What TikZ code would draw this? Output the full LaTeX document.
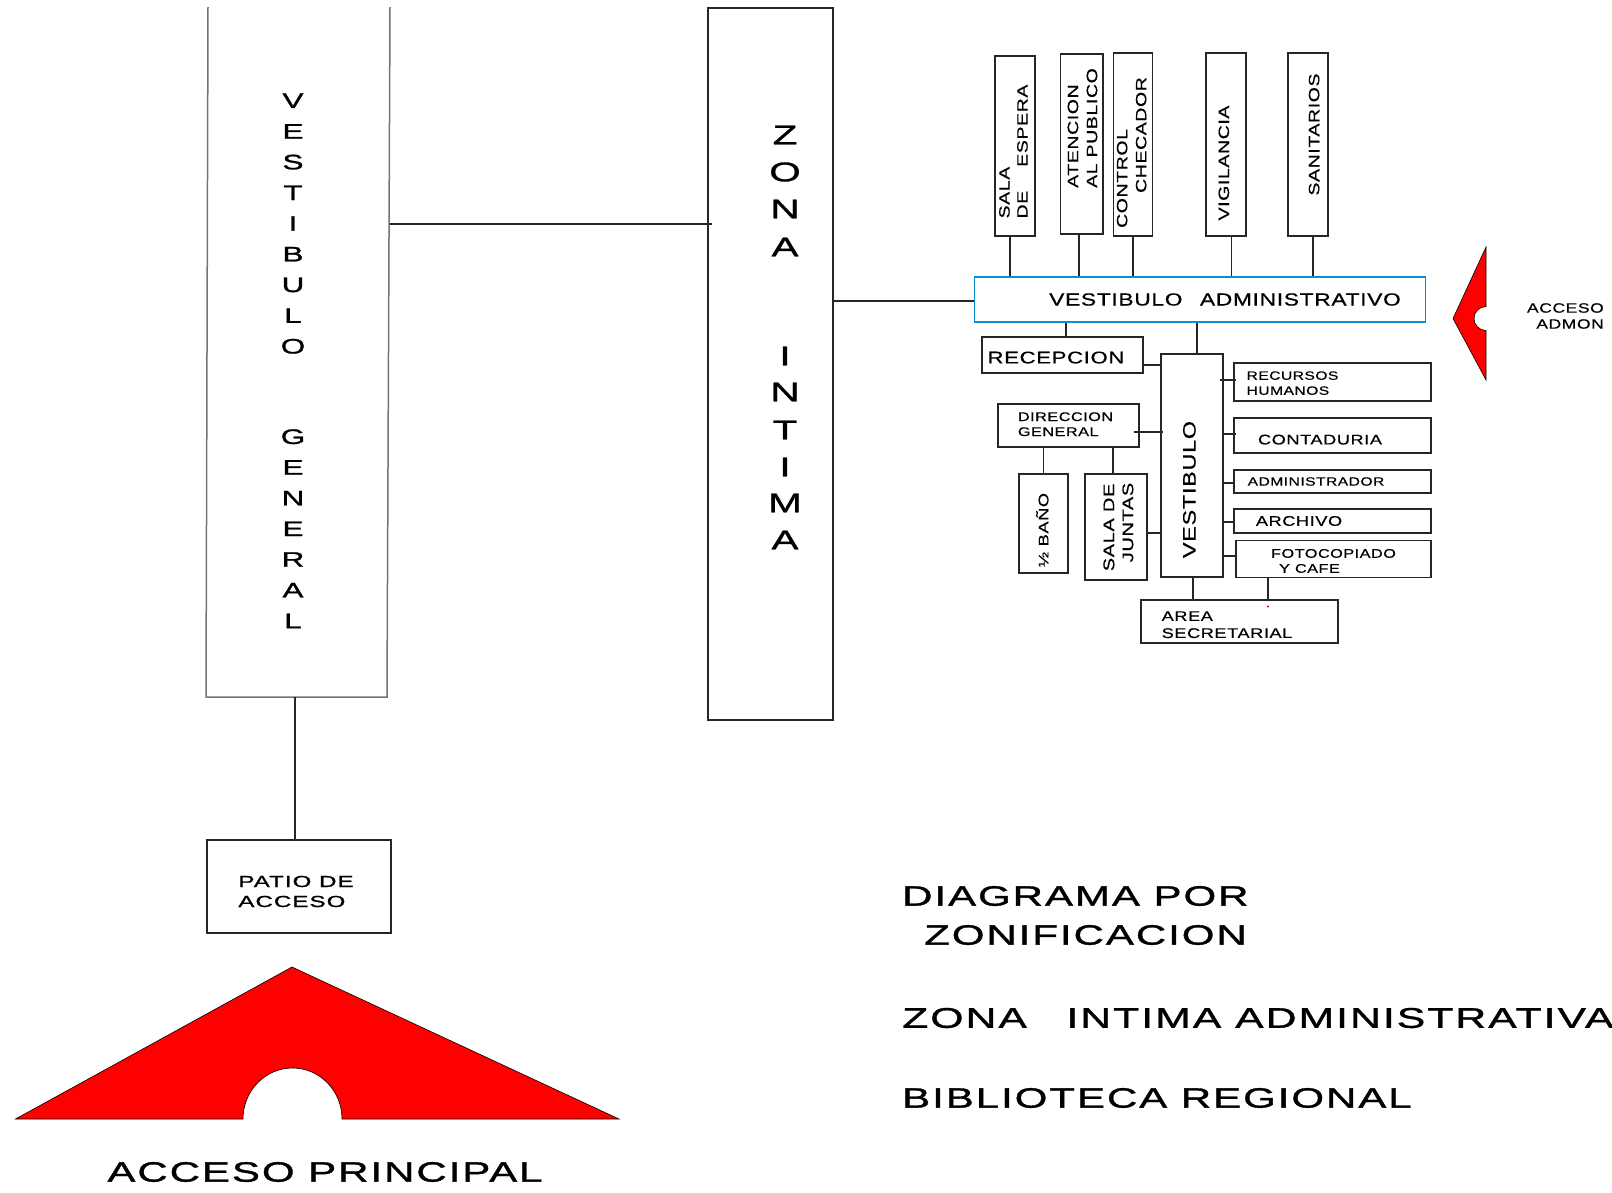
\documentclass[tikz,border=0pt]{standalone}
\usepackage{fontspec}
\usepackage{graphicx}
\newfontfamily\rotfont[FakeStretch=1.3,LetterSpace=4,FakeBold=0.5]{Liberation Sans}
\newfontfamily\grandefont[FakeStretch=1.5,LetterSpace=7,FakeBold=1.2]{Liberation Sans}
\newcommand{\giro}[1]{\rotatebox{90}{\begin{tabular}{@{}l@{}}#1\end{tabular}}}
\newcommand{\linea}[1]{\begin{tabular}{@{}l@{}}#1\end{tabular}}

\tikzset{
	rotulo/.style 2 args={font=\rotfont\fontsize{#1}{#2}\selectfont,text=black,inner sep=0pt},
	rotgrande/.style 2 args={font=\grandefont\fontsize{#1}{#2}\selectfont,text=black,inner sep=0pt},
	caja/.style={draw=black!85,line width=1.3pt,fill=white,inner sep=0pt},
	cajazul/.style={draw=cyan!75!blue,line width=1.3pt,inner sep=0pt},
	enlace/.style={draw=black!85,line width=1.3pt},
	muro/.style={draw=black!55,line width=1.5pt},
	acceso/.style={fill=red,draw=black,line width=0.6pt}
}

\begin{document}
\begin{tikzpicture}[x=1pt,y=-1pt]
	\useasboundingbox (0,0) rectangle (1612,1192);

	% vestibulo general
	\coordinate (vgTL) at (208,7);
	\coordinate (vgBL) at (206,697);
	\coordinate (vgBR) at (387,697);
	\coordinate (vgTR) at (390,7);
	\coordinate (vgD) at (389.5,224);
	\coordinate (vgI) at (295,697);
	\draw[muro] (vgTL) -- (vgBL) -- (vgBR) -- (vgTR);
	\foreach \letra [count=\i] in {V,E,S,T,I,B,U,L,O}
		\node[rotgrande={21}{21}] (vgA\i) at (293,{70+30.7*\i}) {\letra};
	\foreach \letra [count=\i] in {G,E,N,E,R,A,L}
		\node[rotgrande={21}{21}] (vgB\i) at (293,{406+30.7*\i}) {\letra};

	% zona intima
	\node[caja,minimum width=125,minimum height=712] (zona) at (770.5,364) {};
	\foreach \letra/\y in {Z/135,O/172,N/209,A/247,I/356,N/392,T/430,I/467,M/503,A/540}
		\node[rotgrande={27}{27}] (zi\y) at (785,\y) {\letra};

	% patio y acceso principal
	\node[caja,rotgrande={16}{20},minimum width=184,minimum height=93] (patio) at (299,886.5)
		{\linea{\rule{0pt}{27pt}PATIO DE\hspace*{6pt}\\ ACCESO}};
	\draw[acceso] (15.5,1119) -- (292,967) -- (619,1119) -- (342,1119)
		.. controls (342,1091) and (320,1068) .. (292.5,1068)
		.. controls (265,1068) and (243,1091) .. (243,1119) -- cycle;
	\node[rotgrande={28}{28}] (princ) at (325,1172) {ACCESO PRINCIPAL};

	% conexiones generales
	\draw[enlace] (vgD) -- ([xshift=5pt]vgD -| zona.west);
	\draw[enlace] (vgI) -- (vgI |- patio.north);

	% zona administrativa, arriba
	\node[caja,rotulo={15}{18},minimum width=40,minimum height=180] (sala) at (1015,146)
		{\giro{SALA\\ DE\hspace*{24pt}ESPERA\hspace*{11pt}}};
	\node[caja,rotulo={15}{19},minimum width=37,minimum height=180] (atenc) at (1081.5,144)
		{\giro{\rule{0pt}{18pt}\hspace*{32pt}ATENCION\\ \hspace*{32pt}AL PUBLICO}};
	\node[caja,rotulo={15}{19},minimum width=39.5,minimum height=183] (control) at (1133,144.5)
		{\giro{CONTROL\\ \hspace*{35pt}CHECADOR\hspace*{16pt}}};
	\node[caja,rotulo={15}{15},minimum width=40,minimum height=183] (vigil) at (1226,144.5)
		{\giro{VIGILANCIA\hspace*{37pt}}};
	\node[caja,rotulo={15}{15},minimum width=40,minimum height=183] (sanit) at (1308,144.5)
		{\giro{\rule{0pt}{27pt}\hspace*{20pt}SANITARIOS}};
	\node[cajazul,rotulo={17.5}{17.5},minimum width=451.5,minimum height=45] (vadm) at (1200,299.5)
		{\hspace*{50pt}VESTIBULO\quad ADMINISTRATIVO};

	\foreach \nombre/\dx in {sala/-5,atenc/-2.5,control/0,vigil/5.5,sanit/5}
		\draw[enlace] ([xshift=\dx pt]\nombre.south) -- ([xshift=\dx pt]\nombre.south |- vadm.north);
	\draw[enlace] ([yshift=-1.5pt]vadm.west) -- ([yshift=-1.5pt]vadm.west -| zona.east);

	% zona administrativa, abajo
	\node[caja,rotulo={17}{17},text height=17pt,minimum width=161,minimum height=36] (recep) at (1062.5,355)
		{RECEPCION\hspace*{13pt}};
	\node[caja,rotulo={18}{18},minimum width=62,minimum height=223] (vest) at (1192,465.5)
		{\giro{VESTIBULO\hspace*{48pt}}};
	\node[caja,rotulo={12}{15},minimum width=197,minimum height=38] (recur) at (1332.5,382)
		{\linea{\rule{0pt}{15pt}RECURSOS\\ HUMANOS}\hspace*{80pt}};
	\node[caja,rotulo={14}{14},text height=18pt,minimum width=197,minimum height=35] (conta) at (1332.5,435.5)
		{CONTADURIA\hspace*{25pt}};
	\node[caja,rotulo={12}{12},minimum width=197,minimum height=23] (admin) at (1332.5,481.5)
		{ADMINISTRADOR\hspace*{33pt}};
	\node[caja,rotulo={14}{14},minimum width=197,minimum height=24] (archi) at (1332.5,521)
		{ARCHIVO\hspace*{67pt}};
	\node[caja,rotulo={12.5}{15},minimum width=195,minimum height=36] (foto) at (1333.5,559)
		{\linea{\rule{0pt}{17pt}FOTOCOPIADO\\ \hspace*{8pt}Y CAFE}};
	\node[caja,rotulo={12.5}{15},minimum width=141,minimum height=43] (dirg) at (1068.5,425.5)
		{\linea{DIRECCION\\ GENERAL}\hspace*{6pt}};
	\node[caja,rotulo={14}{14},minimum width=49,minimum height=99] (bano) at (1043.5,523.5)
		{\giro{\rule{0pt}{14pt}½ BAÑO\hspace*{13pt}}};
	\node[caja,rotulo={15.4}{19},minimum width=62,minimum height=106] (junta) at (1116,527)
		{\giro{\rule{0pt}{21pt}SALA DE\\ \hspace*{9pt}JUNTAS}};
	\node[caja,rotulo={14}{17},minimum width=197,minimum height=41] (area) at (1239.5,621.5)
		{\linea{\rule{0pt}{21pt}AREA\\ SECRETARIAL}\hspace*{25pt}};
	\node[circle,fill=red,inner sep=0.8pt] (punto) at (1268,606.5) {};

	\draw[enlace] ([xshift=3.5pt]recep.north) -- ([xshift=3.5pt]recep.north |- vadm.south);
	\draw[enlace] ([xshift=5pt]vest.north) -- ([xshift=5pt]vest.north |- vadm.south);
	\draw[enlace] ([yshift=-10pt]recep.east) -- ([yshift=-10pt]recep.east -| vest.west);
	\foreach \nombre/\dy/\ax/\bx in {recur/2/4/3,conta/1.5/2/3,admin/-1.5/0/0,archi/-1/0/0,foto/3/0/0}
		\draw[enlace] ([shift={(-\ax pt,\dy pt)}]\nombre.west -| vest.east) -- ([shift={(\bx pt,\dy pt)}]\nombre.west);
	\draw[enlace] ([shift={(-6pt,-6.5pt)}]dirg.east) -- ([shift={(3pt,-6.5pt)}]dirg.east -| vest.west);
	\draw[enlace] ([yshift=-6pt]junta.east) -- ([yshift=-6pt]junta.east -| vest.west);
	\draw[enlace] (bano.north) -- (bano.north |- dirg.south);
	\draw[enlace] ([xshift=-3pt]junta.north) -- ([xshift=-3pt]junta.north |- dirg.south);
	\draw[enlace] ([xshift=1pt]vest.south) -- ([xshift=1pt]vest.south |- area.north);
	\draw[enlace] ([xshift=-65.5pt]foto.south) -- ([xshift=-65.5pt]foto.south |- area.north);

	% acceso administrativo
	\draw[acceso] (1486,247) -- (1453,318.5) -- (1486,380) -- (1486,330.5)
		.. controls (1479.4,330.5) and (1474,325.1) .. (1474,318.5)
		.. controls (1474,311.9) and (1479.4,306.5) .. (1486,306.5) -- cycle;
	\node[rotulo={13.5}{16},align=right,anchor=east] (admon) at (1604,316) {ACCESO\\ ADMON};

	% titulos
	\node[rotgrande={28}{28},anchor=west] (tit1) at (902,896) {DIAGRAMA POR};
	\node[rotgrande={28}{28},anchor=west] (tit2) at (924,935) {ZONIFICACION};
	\node[rotgrande={28.5}{28.5},anchor=west] (tit3) at (902,1018) {ZONA\quad\hspace*{11pt}INTIMA ADMINISTRATIVA};
	\node[rotgrande={28}{28},anchor=west] (tit4) at (902,1098) {BIBLIOTECA REGIONAL};
\end{tikzpicture}
\end{document}
